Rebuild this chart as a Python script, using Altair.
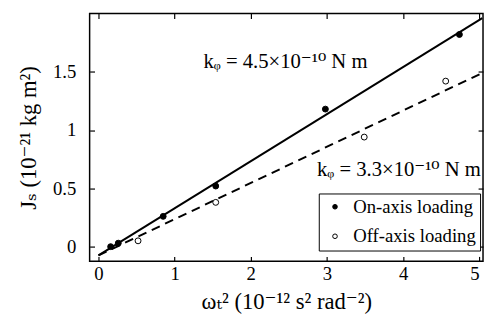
import altair as alt
import pandas as pd

# ---- data ----
series_names = ["On-axis loading", "Off-axis loading"]
on_x = [0.16, 0.26, 0.85, 1.54, 2.98, 4.74]
on_y = [0.00, 0.03, 0.26, 0.52, 1.18, 1.82]
off_x = [0.52, 1.54, 3.49, 4.56]
off_y = [0.05, 0.38, 0.94, 1.42]

fit_x = [0.0, 5.04]
solid_y = [-0.075, 1.96]
dashed_y = [-0.075, 1.49]

label_text = ["kᵩ = 4.5×10⁻¹⁰ N m", "kᵩ = 3.3×10⁻¹⁰ N m"]
label_x = [1.38, 2.87]
label_y = [1.58, 0.66]

x_ticks = [0, 1, 2, 3, 4, 5]
y_ticks = [0, 0.5, 1, 1.5]
x_domain = [-0.116, 5.05]
y_domain = [-0.126, 2.0]

FONT = "Liberation Serif, DejaVu Serif, serif"

pts = pd.DataFrame({
    "x": on_x + off_x,
    "y": on_y + off_y,
    "series": [series_names[0]] * len(on_x) + [series_names[1]] * len(off_x),
})
solid = pd.DataFrame({"x": fit_x, "y": solid_y})
dashed = pd.DataFrame({"x": fit_x, "y": dashed_y})
labels = pd.DataFrame({"x": label_x, "y": label_y, "t": label_text})

xs = alt.Scale(domain=x_domain, nice=False, zero=False)
ys = alt.Scale(domain=y_domain, nice=False, zero=False)

common = dict(grid=False, domain=False, tickColor="black", tickWidth=1.2,
              labelColor="black", titleColor="black", labelFont=FONT, titleFont=FONT,
              labelFontSize=19, titleFontSize=23, titleFontWeight="normal", format="~g")

bottom_axis = alt.Axis(orient="bottom", values=x_ticks, offset=-5, tickSize=5,
                       labelPadding=3, titlePadding=8, labelFlush=6, **common)
left_axis = alt.Axis(orient="left", values=y_ticks, offset=-5, tickSize=5,
                     labelPadding=14, titlePadding=12, **common)
top_axis = alt.Axis(orient="top", values=x_ticks, offset=-5, tickSize=5,
                    labels=False, grid=False, domain=False, tickColor="black", tickWidth=1.2)
right_axis = alt.Axis(orient="right", values=y_ticks, offset=-5, tickSize=5,
                      labels=False, grid=False, domain=False, tickColor="black", tickWidth=1.2)

solid_layer = alt.Chart(solid).mark_line(color="black", strokeWidth=2).encode(
    x=alt.X("x:Q", scale=xs, axis=bottom_axis, title="ωₜ²  (10⁻¹²  s² rad⁻²)"),
    y=alt.Y("y:Q", scale=ys, axis=left_axis, title="Jₛ  (10⁻²¹  kg m²)"),
)
dashed_layer = alt.Chart(dashed).mark_line(color="black", strokeWidth=2, strokeDash=[9, 6]).encode(
    x=alt.X("x:Q", scale=xs, axis=top_axis, title=None),
    y=alt.Y("y:Q", scale=ys, axis=right_axis, title=None),
)
point_layer = alt.Chart(pts).mark_point(shape="circle", filled=True, stroke="black",
                                        strokeWidth=1, size=36, opacity=1).encode(
    x=alt.X("x:Q", scale=xs, axis=None),
    y=alt.Y("y:Q", scale=ys, axis=None),
    fill=alt.Fill("series:N",
                  scale=alt.Scale(domain=series_names, range=["black", "white"]),
                  legend=alt.Legend(title=None, orient="none", legendX=233, legendY=183,
                                    strokeColor="black", fillColor="white", padding=4,
                                    labelFont=FONT, labelFontSize=19, labelColor="black",
                                    symbolType="circle", symbolSize=22,
                                    symbolStrokeColor="black", symbolStrokeWidth=1,
                                    symbolOffset=3, labelOffset=9, rowPadding=10,
                                    labelLimit=300)),
)
text_layer = alt.Chart(labels).mark_text(align="left", baseline="middle", font=FONT,
                                         fontSize=21, color="black").encode(
    x=alt.X("x:Q", scale=xs, axis=None),
    y=alt.Y("y:Q", scale=ys, axis=None),
    text="t:N",
)

chart = alt.layer(solid_layer, dashed_layer, point_layer, text_layer).resolve_axis(
    x="independent", y="independent"
).properties(
    width=400, height=252,
    autosize=alt.AutoSizeParams(type="none"),
    padding={"left": 83, "top": 3, "right": 1, "bottom": 55},
    background="white",
).configure_view(stroke="black", strokeWidth=1.5)

chart.save("out.html", embed_options={"renderer": "svg", "actions": False})
